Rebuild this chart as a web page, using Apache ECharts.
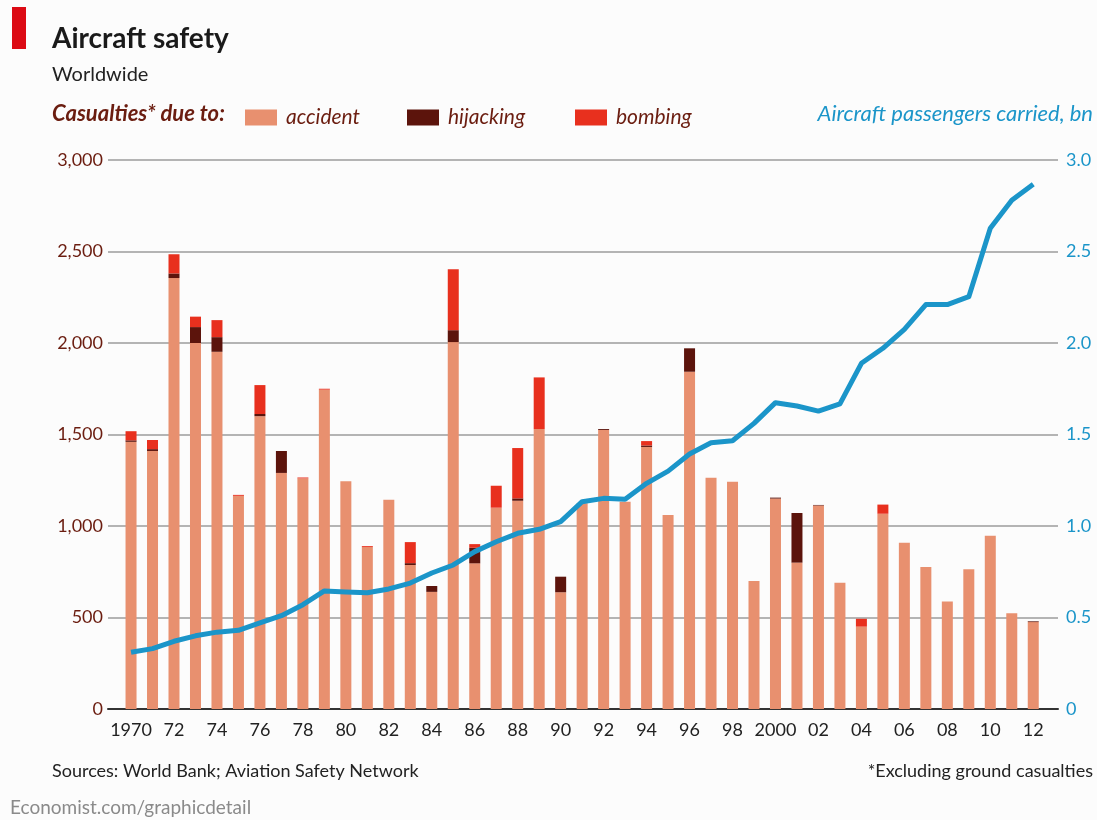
<!DOCTYPE html>
<html lang="en">
<head>
    <meta charset="UTF-8">
    <title>Aircraft safety</title>
    <script src="https://cdn.jsdelivr.net/npm/echarts@6/dist/echarts.min.js"></script>
    <style>
        html, body { margin: 0; padding: 0; background: #fcfcfc; }
        #main { width: 1097px; height: 820px; }
    </style>
</head>
<body>
<div id="main"></div>
<script>
    // data
    var years = ['1970', '1971', '1972', '1973', '1974', '1975', '1976', '1977', '1978', '1979',
        '1980', '1981', '1982', '1983', '1984', '1985', '1986', '1987', '1988', '1989',
        '1990', '1991', '1992', '1993', '1994', '1995', '1996', '1997', '1998', '1999',
        '2000', '2001', '2002', '2003', '2004', '2005', '2006', '2007', '2008', '2009',
        '2010', '2011', '2012'];
    var accident = [1460, 1410, 2355, 2000, 1952, 1165, 1600, 1290, 1260, 1745,
        1245, 885, 1144, 787, 640, 2005, 796, 1100, 1138, 1530,
        638, 1125, 1525, 1133, 1432, 1060, 1843, 1264, 1242, 700,
        1150, 800, 1112, 690, 450, 1067, 909, 776, 588, 763,
        947, 523, 475];
    var hijacking = [8, 10, 25, 87, 80, 0, 12, 120, 0, 0,
        0, 0, 0, 10, 32, 65, 85, 0, 13, 0,
        85, 0, 5, 0, 8, 0, 128, 0, 0, 0,
        5, 271, 3, 0, 0, 0, 0, 0, 0, 0,
        0, 0, 4];
    var bombing = [50, 50, 105, 57, 93, 5, 158, 0, 5, 5,
        0, 5, 0, 115, 0, 333, 20, 120, 275, 282,
        0, 0, 0, 0, 24, 0, 0, 0, 0, 0,
        0, 0, 0, 0, 43, 50, 0, 0, 0, 0,
        0, 0, 0];
    var passengers = [0.31, 0.33, 0.37, 0.40, 0.42, 0.43, 0.47, 0.51, 0.57, 0.645,
        0.64, 0.635, 0.656, 0.688, 0.743, 0.787, 0.86, 0.914, 0.96, 0.982,
        1.024, 1.133, 1.151, 1.146, 1.233, 1.30, 1.393, 1.455, 1.466, 1.561,
        1.674, 1.656, 1.628, 1.667, 1.889, 1.971, 2.075, 2.21, 2.21, 2.253,
        2.627, 2.78, 2.867];
    var tickYears = ['1970', '1972', '1974', '1976', '1978', '1980', '1982', '1984', '1986', '1988', '1990',
        '1992', '1994', '1996', '1998', '2000', '2002', '2004', '2006', '2008', '2010', '2012'];
    var tickLabels = ['1970', '72', '74', '76', '78', '80', '82', '84', '86', '88', '90',
        '92', '94', '96', '98', '2000', '02', '04', '06', '08', '10', '12'];

    var FONT = 'Lato';
    var BROWN = '#6b1d10';
    var BLUE = '#1b95c9';
    var TOP = 160, BOTTOM = 111;

    var myChart = echarts.init(document.getElementById('main'));

    function legendAt(name, left) {
        return {
            data: [name], left: left, top: 102,
            itemWidth: 32, itemHeight: 16, icon: 'rect',
            textStyle: { color: BROWN, fontSize: 21, fontStyle: 'italic', fontFamily: FONT, padding: [0, 0, 0, 4] }
        };
    }

    var option = {
        backgroundColor: '#fcfcfc',
        animation: false,
        textStyle: { fontFamily: FONT },
        grid: [
            // wide grid: rules, axis labels
            { left: 108, right: 39, top: TOP, bottom: BOTTOM },
            // bar grid, one band per year
            { left: 120.3, right: 53, top: TOP, bottom: BOTTOM }
        ],
        legend: [legendAt('accident', 240), legendAt('hijacking', 402), legendAt('bombing', 570)],
        graphic: [
            { type: 'rect', left: 12, top: 7, shape: { width: 14, height: 42 }, style: { fill: '#dc0a14' } },
            { type: 'text', left: 52, top: 25, style: { text: 'Aircraft safety', fill: '#1a1a1a', font: 'bold 28px ' + FONT } },
            { type: 'text', left: 52, top: 65, style: { text: 'Worldwide', fill: '#222', font: '20px ' + FONT } },
            { type: 'text', left: 52, top: 103, style: { text: 'Casualties* due to:', fill: BROWN, font: 'italic bold 22px ' + FONT } },
            { type: 'text', right: 4, top: 103, style: { text: 'Aircraft passengers carried, bn', fill: BLUE, font: 'italic 22px ' + FONT } },
            { type: 'text', left: 52, top: 762, style: { text: 'Sources: World Bank; Aviation Safety Network', fill: '#222', font: '18px ' + FONT } },
            { type: 'text', right: 4, top: 762, style: { text: '*Excluding ground casualties', fill: '#222', font: '18px ' + FONT } },
            { type: 'text', left: 10, top: 798, style: { text: 'Economist.com/graphicdetail', fill: '#8a8a8a', font: '19px ' + FONT } }
        ],
        xAxis: [
            {
                gridIndex: 0, type: 'value', min: 0, max: 1,
                splitLine: { show: false }, axisTick: { show: false }, axisLabel: { show: false },
                axisLine: { show: true, lineStyle: { color: '#333', width: 2 } }
            },
            {
                gridIndex: 1, type: 'category', data: years,
                axisLine: { show: false }, axisTick: { show: false },
                axisLabel: {
                    interval: 1, margin: 12,
                    color: '#222', fontSize: 18, fontFamily: FONT,
                    formatter: function (v) {
                        var i = tickYears.indexOf(v);
                        return i >= 0 ? tickLabels[i] : '';
                    }
                }
            }
        ],
        yAxis: [
            {
                gridIndex: 0, type: 'value', min: 0, max: 3000, interval: 500,
                axisLine: { show: false }, axisTick: { show: false },
                splitLine: { lineStyle: { color: '#b4b4b4', width: 2 } },
                axisLabel: {
                    color: BROWN, fontSize: 18, fontFamily: FONT, margin: 5,
                    formatter: function (v) { return v.toLocaleString('en-US'); }
                }
            },
            {
                gridIndex: 0, type: 'value', min: 0, max: 3, interval: 0.5, position: 'right',
                axisLine: { show: false }, axisTick: { show: false },
                splitLine: { show: false },
                axisLabel: {
                    color: BLUE, fontSize: 18, fontFamily: FONT, margin: 8,
                    formatter: function (v) { return v === 0 ? '0' : v.toFixed(1); }
                }
            },
            {
                gridIndex: 1, type: 'value', min: 0, max: 3000, show: false
            },
            {
                gridIndex: 1, type: 'value', min: 0, max: 3, show: false
            }
        ],
        series: [
            { name: 'accident', type: 'bar', stack: 'cas', xAxisIndex: 1, yAxisIndex: 2, barWidth: 11, data: accident, itemStyle: { color: '#e8906f' } },
            { name: 'hijacking', type: 'bar', stack: 'cas', xAxisIndex: 1, yAxisIndex: 2, barWidth: 11, data: hijacking, itemStyle: { color: '#5c140c' } },
            { name: 'bombing', type: 'bar', stack: 'cas', xAxisIndex: 1, yAxisIndex: 2, barWidth: 11, data: bombing, itemStyle: { color: '#e8301e' } },
            {
                name: 'passengers', type: 'line', xAxisIndex: 1, yAxisIndex: 3, data: passengers,
                symbol: 'none', z: 5,
                lineStyle: { color: BLUE, width: 5, join: 'round' }
            }
        ]
    };
    myChart.setOption(option);
</script>
</body>
</html>
